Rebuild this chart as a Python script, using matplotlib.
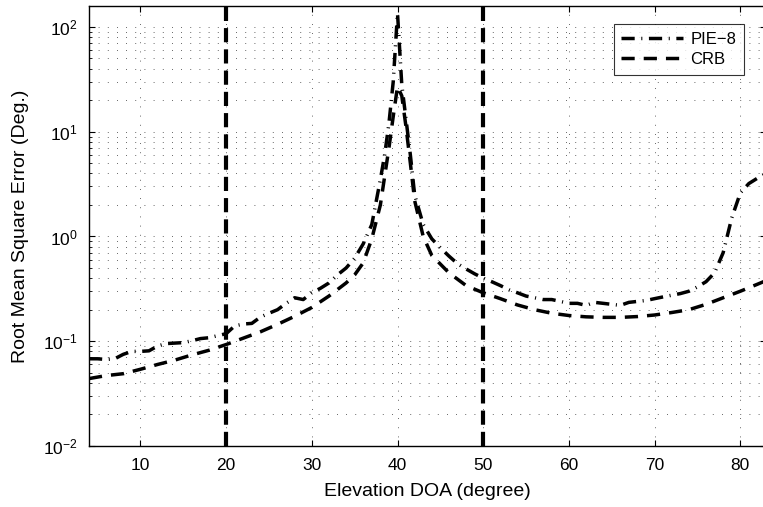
import numpy as np
import matplotlib
matplotlib.use("Agg")
import matplotlib.pyplot as plt
from matplotlib.ticker import LogLocator, NullFormatter

plt.rcParams['font.family'] = ['Liberation Sans', 'DejaVu Sans']
plt.rcParams['mathtext.fontset'] = 'custom'
plt.rcParams['mathtext.rm'] = 'Liberation Sans'

# PIE-8 RMSE (deg.)
x_pie = [4, 5, 6, 7, 8, 9, 10, 11, 12, 13, 14, 15, 16, 17, 18, 19, 20, 21, 22, 23,
         24, 25, 26, 27, 28, 29, 30, 31, 32, 33, 34, 35, 36, 37, 38, 38.5, 39, 39.5,
         40, 40.5, 41, 41.5, 42, 43, 44, 45, 46, 47, 48, 49, 50, 51, 52, 53, 54, 55,
         56, 57, 58, 59, 60, 61, 62, 63, 64, 65, 66, 67, 68, 69, 70, 71, 72, 73, 74,
         75, 76, 77, 78, 79, 80, 81, 82, 83]
y_pie = [0.068, 0.068, 0.067, 0.068, 0.075, 0.080, 0.080, 0.081, 0.090, 0.095,
         0.096, 0.097, 0.101, 0.106, 0.108, 0.113, 0.118, 0.140, 0.146, 0.148,
         0.170, 0.185, 0.200, 0.230, 0.260, 0.250, 0.290, 0.320, 0.360, 0.430,
         0.500, 0.620, 0.850, 1.30, 3.5, 6.0, 12.0, 30.0,
         135.0, 28.0, 13.0, 6.0, 2.5, 1.3, 0.95, 0.78, 0.65, 0.55, 0.49, 0.44,
         0.40, 0.37, 0.34, 0.31, 0.29, 0.27, 0.26, 0.25, 0.25, 0.24, 0.23, 0.23,
         0.22, 0.235, 0.23, 0.225, 0.22, 0.235, 0.24, 0.245, 0.255, 0.265, 0.275,
         0.285, 0.30, 0.33, 0.37, 0.45, 0.70, 1.5, 2.6, 3.2, 3.6, 4.0]

# Cramer-Rao bound
x_crb = [4, 6, 8, 10, 12, 14, 16, 18, 20, 22, 24, 26, 28, 30, 32, 34, 35, 36, 37,
         38, 39, 39.5, 40, 40.5, 41, 41.5, 42, 43, 44, 46, 48, 50, 52, 54, 56, 58,
         60, 62, 64, 66, 68, 70, 72, 74, 76, 78, 80, 82, 84]
y_crb = [0.044, 0.047, 0.049, 0.054, 0.060, 0.066, 0.074, 0.082, 0.093, 0.107,
         0.123, 0.145, 0.173, 0.21, 0.27, 0.36, 0.43, 0.56, 0.95,
         2.0, 7.0, 14.0, 27.0, 22.0, 11.0, 5.0, 2.2, 1.0, 0.66, 0.45, 0.34,
         0.29, 0.255, 0.222, 0.20, 0.185, 0.176, 0.171, 0.169, 0.169, 0.172,
         0.178, 0.188, 0.20, 0.225, 0.26, 0.30, 0.35, 0.41]

# marked elevation angles
x_marks = [20, 50]

fig = plt.figure(figsize=(7.63, 5.07), dpi=100)
ax = fig.add_axes([89 / 763, 61 / 507, 677 / 763, 440 / 507])

lw = 2.5
ax.plot(x_pie, y_pie, color='k', lw=lw, dashes=[3.8, 1.9, 0.3, 1.9],
        label='PIE\u22128')
ax.plot(x_crb, y_crb, color='k', lw=lw, dashes=[3.8, 2.6], label='CRB')
for xm in x_marks:
    ax.axvline(xm, color='k', lw=3, dashes=[3.4, 1.7])

ax.set_yscale('log')
ax.set_xlim(4, 83)
ax.set_ylim(1e-2, 10 ** 2.2)
ax.set_xticks([10, 20, 30, 40, 50, 60, 70, 80])
ax.yaxis.set_major_locator(LogLocator(base=10, numticks=10))
ax.yaxis.set_minor_locator(LogLocator(base=10, subs=np.arange(2, 10), numticks=20))
ax.yaxis.set_minor_formatter(NullFormatter())

ax.grid(True, which='major', axis='x', color='#333333', lw=0.6, ls=(0, (1, 10)))
ax.grid(True, which='both', axis='y', color='#333333', lw=0.6, ls=(0, (1, 10)))

ax.tick_params(which='both', direction='in', top=True, right=True, labelsize=12.5)
ax.tick_params(which='major', length=4.5, width=0.8)
ax.tick_params(which='minor', length=2.5, width=0.6)
ax.tick_params(axis='x', which='major', pad=9)
ax.tick_params(axis='y', which='major', pad=8)
for s in ax.spines.values():
    s.set_linewidth(1.0)

ax.set_xlabel('Elevation DOA (degree)', fontsize=14)
ax.set_ylabel('Root Mean Square Error (Deg.)', fontsize=14)
ax.xaxis.set_label_coords(0.5, -0.083)
ax.yaxis.set_label_coords(-0.089, 0.5)

leg = ax.legend(loc='upper right', bbox_to_anchor=(744 / 763, 483 / 507),
                bbox_transform=fig.transFigure, fontsize=12, frameon=True,
                fancybox=False, edgecolor='k', handlelength=3.7,
                borderpad=0.45, labelspacing=0.35, handletextpad=0.45,
                borderaxespad=0)
leg.get_frame().set_linewidth(0.8)

fig.savefig('out.png', dpi=100)
